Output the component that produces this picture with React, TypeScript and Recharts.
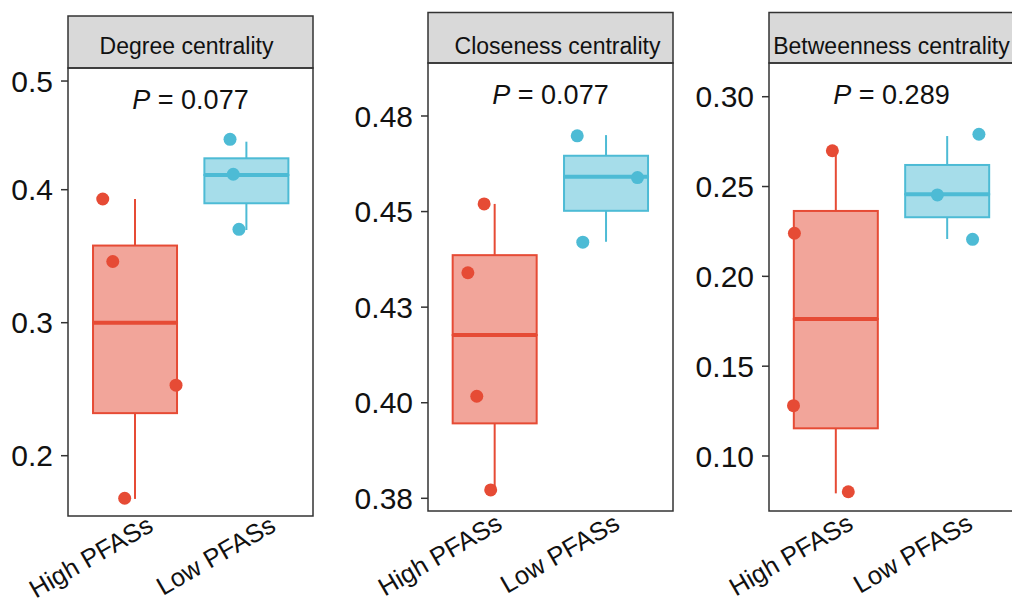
import React from 'react';
import { ComposedChart, Bar, Scatter, XAxis, YAxis } from 'recharts';

// ---------- data ----------
const GROUPS = ['High PFASs', 'Low PFASs'];
const GROUP_POS = [1, 2];
const PANEL_TITLES = ['Degree centrality', 'Closeness centrality', 'Betweenness centrality'];
const P_VALUES = ['0.077', '0.077', '0.289'];

// box statistics: [lower whisker, Q1, median, Q3, upper whisker]
const degreeBoxHigh = [0.1675, 0.232, 0.3, 0.358, 0.393];
const degreeBoxLow = [0.3697, 0.3898, 0.4111, 0.4236, 0.4361];
const closenessBoxHigh = [0.3772, 0.3946, 0.4177, 0.4386, 0.452];
const closenessBoxLow = [0.4421, 0.4502, 0.4591, 0.4646, 0.47];
const betweennessBoxHigh = [0.0792, 0.1154, 0.1763, 0.2364, 0.2699];
const betweennessBoxLow = [0.2208, 0.2329, 0.2457, 0.262, 0.2781];

// jittered sample points (x = group position + jitter, y = value)
const degreeHighX = [0.712, 0.802, 1.37, 0.909];
const degreeHighY = [0.393, 0.346, 0.253, 0.168];
const degreeLowX = [1.855, 1.884, 1.935];
const degreeLowY = [0.4379, 0.4116, 0.3702];
const closenessHighX = [0.904, 0.758, 0.838, 0.963];
const closenessHighY = [0.452, 0.434, 0.4017, 0.3772];
const closenessLowX = [1.74, 2.281, 1.79];
const closenessLowY = [0.4698, 0.4589, 0.442];
const betweennessHighX = [0.969, 0.628, 0.62, 1.112];
const betweennessHighY = [0.2699, 0.224, 0.128, 0.0801];
const betweennessLowX = [2.285, 1.912, 2.228];
const betweennessLowY = [0.2791, 0.2453, 0.2206];

// y axes
const degreeTicks = [0.2, 0.3, 0.4, 0.4817];
const degreeTickLabels = ['0.2', '0.3', '0.4', '0.5'];
const degreeDomain = [0.15466, 0.4915];
const closenessTicks = [0.375, 0.4, 0.425, 0.45, 0.475];
const closenessTickLabels = ['0.38', '0.40', '0.43', '0.45', '0.48'];
const closenessDomain = [0.37168, 0.48886];
const betweennessTicks = [0.1, 0.15, 0.2, 0.25, 0.3];
const betweennessTickLabels = ['0.10', '0.15', '0.20', '0.25', '0.30'];
const betweennessDomain = [0.06938, 0.31876];

// ---------- styles / layout ----------
const FONT = '"Liberation Sans", Arial, Helvetica, sans-serif';
const COLORS = ['#E64B35', '#4DBBD5'];
const FILLS = ['#F2A59A', '#A6DDEA'];
const PLOT_LEFT = [68, 428, 769];
const PLOT_TOP = [68, 63, 63];
const STRIP_TOP = [16, 12.5, 12.5];
const TITLE_DX = [-4, 7, 0];
const X_LABEL_DX = [
  [20, 31],
  [9, 15],
  [19, 27],
];
const X_LABEL_DY = [14, 17, 17];
const PLOT_W = 245;
const PLOT_H = 448;
const Y_AXIS_W = 90;
const X_AXIS_H = 110;
const TOP_PAD = 24;
const BOX_HALF = 42;

const zipPoints = (xs: number[], ys: number[]) => xs.map((x, i) => ({ x, y: ys[i] }));

const boxRows = (high: number[], low: number[]) =>
  [high, low].map((s, i) => ({
    x: GROUP_POS[i],
    base: s[0],
    whiskerLo: s[1] - s[0],
    boxLo: s[2] - s[1],
    boxHi: s[3] - s[2],
    whiskerHi: s[4] - s[3],
  }));

const PANELS = [
  {
    rows: boxRows(degreeBoxHigh, degreeBoxLow),
    high: zipPoints(degreeHighX, degreeHighY),
    low: zipPoints(degreeLowX, degreeLowY),
    ticks: degreeTicks,
    labels: degreeTickLabels,
    domain: degreeDomain,
  },
  {
    rows: boxRows(closenessBoxHigh, closenessBoxLow),
    high: zipPoints(closenessHighX, closenessHighY),
    low: zipPoints(closenessLowX, closenessLowY),
    ticks: closenessTicks,
    labels: closenessTickLabels,
    domain: closenessDomain,
  },
  {
    rows: boxRows(betweennessBoxHigh, betweennessBoxLow),
    high: zipPoints(betweennessHighX, betweennessHighY),
    low: zipPoints(betweennessLowX, betweennessLowY),
    ticks: betweennessTicks,
    labels: betweennessTickLabels,
    domain: betweennessDomain,
  },
];

const groupIndex = (p: any) => {
  if (p && p.payload && typeof p.payload.x === 'number') return GROUP_POS.indexOf(p.payload.x);
  return p.index ?? 0;
};

const EmptyShape = () => <g />;

const WhiskerShape = (p: any) => {
  const gi = groupIndex(p);
  const cx = p.x + p.width / 2;
  return <line x1={cx} x2={cx} y1={p.y} y2={p.y + p.height} stroke={COLORS[gi]} strokeWidth={2} />;
};

const BoxLowerShape = (p: any) => {
  const gi = groupIndex(p);
  const cx = p.x + p.width / 2;
  return (
    <rect
      x={cx - BOX_HALF}
      y={p.y}
      width={BOX_HALF * 2}
      height={p.height}
      fill={FILLS[gi]}
      stroke={COLORS[gi]}
      strokeWidth={2}
    />
  );
};

const BoxUpperShape = (p: any) => {
  const gi = groupIndex(p);
  const cx = p.x + p.width / 2;
  const yb = p.y + p.height;
  return (
    <g>
      <rect
        x={cx - BOX_HALF}
        y={p.y}
        width={BOX_HALF * 2}
        height={p.height}
        fill={FILLS[gi]}
        stroke={COLORS[gi]}
        strokeWidth={2}
      />
      <line x1={cx - BOX_HALF} x2={cx + BOX_HALF} y1={yb} y2={yb} stroke={COLORS[gi]} strokeWidth={4} />
    </g>
  );
};

const makeDot = (color: string) => (p: any) => <circle cx={p.cx} cy={p.cy} r={6.5} fill={color} />;

const makeXTick = (panelIdx: number) => (p: any) => {
  const { x, y, payload } = p;
  const gi = GROUP_POS.indexOf(payload.value);
  const tx = x + X_LABEL_DX[panelIdx][gi];
  const ty = y + X_LABEL_DY[panelIdx];
  return (
    <text
      x={tx}
      y={ty}
      transform={`rotate(-30, ${tx}, ${ty})`}
      textAnchor="end"
      fontSize={25.5}
      fontFamily={FONT}
      fill="#111"
    >
      {GROUPS[gi]}
    </text>
  );
};

const Panel = ({ idx }: { idx: number }) => {
  const pn = PANELS[idx];
  return (
    <div style={{ position: 'absolute', left: PLOT_LEFT[idx] - Y_AXIS_W, top: PLOT_TOP[idx] - TOP_PAD }}>
      <ComposedChart
        width={Y_AXIS_W + PLOT_W}
        height={TOP_PAD + PLOT_H + X_AXIS_H}
        data={pn.rows}
        margin={{ top: TOP_PAD, right: 0, bottom: 0, left: 0 }}
        barGap={0}
      >
        <XAxis
          dataKey="x"
          type="number"
          domain={[0.4, 2.6]}
          allowDataOverflow
          ticks={GROUP_POS}
          interval={0}
          tick={makeXTick(idx)}
          tickLine={false}
          axisLine={false}
          tickSize={0}
          tickMargin={0}
          height={X_AXIS_H}
        />
        <YAxis
          type="number"
          domain={pn.domain}
          allowDataOverflow
          ticks={pn.ticks}
          interval={0}
          tickFormatter={(v: number) => pn.labels[pn.ticks.indexOf(v)]}
          width={Y_AXIS_W}
          axisLine={false}
          tickLine={{ stroke: '#333', strokeWidth: 1.5 }}
          tickSize={7}
          tickMargin={8}
          tick={{ fontSize: 30, fill: '#111', fontFamily: FONT }}
        />
        <Bar dataKey="base" stackId="box" shape={EmptyShape} isAnimationActive={false} />
        <Bar dataKey="whiskerLo" stackId="box" shape={WhiskerShape} isAnimationActive={false} />
        <Bar dataKey="boxLo" stackId="box" shape={BoxLowerShape} isAnimationActive={false} />
        <Bar dataKey="boxHi" stackId="box" shape={BoxUpperShape} isAnimationActive={false} />
        <Bar dataKey="whiskerHi" stackId="box" shape={WhiskerShape} isAnimationActive={false} />
        <Scatter data={pn.high} dataKey="y" fill={COLORS[0]} shape={makeDot(COLORS[0])} isAnimationActive={false} />
        <Scatter data={pn.low} dataKey="y" fill={COLORS[1]} shape={makeDot(COLORS[1])} isAnimationActive={false} />
      </ComposedChart>
    </div>
  );
};

export default function App() {
  return (
    <div
      style={{
        position: 'absolute',
        left: 0,
        top: 0,
        width: 1012,
        height: 604,
        overflow: 'hidden',
        background: '#fff',
        fontFamily: FONT,
      }}
    >
      {[0, 1, 2].map((i) => (
        <Panel key={i} idx={i} />
      ))}
      <svg
        width={1012}
        height={604}
        style={{ position: 'absolute', left: 0, top: 0, pointerEvents: 'none' }}
      >
        {[0, 1, 2].map((i) => {
          const x0 = PLOT_LEFT[i];
          const y0 = PLOT_TOP[i];
          const cx = x0 + PLOT_W / 2;
          return (
            <g key={i}>
              <rect
                x={x0}
                y={STRIP_TOP[i]}
                width={PLOT_W}
                height={y0 - STRIP_TOP[i]}
                fill="#D9D9D9"
                stroke="#333"
                strokeWidth={1.5}
              />
              <text x={cx + TITLE_DX[i]} y={53.5} textAnchor="middle" fontSize={23} fontFamily={FONT} fill="#111">
                {PANEL_TITLES[i]}
              </text>
              <rect x={x0} y={y0} width={PLOT_W} height={PLOT_H} fill="none" stroke="#333" strokeWidth={1.5} />
              <text x={cx} y={y0 + 41} textAnchor="middle" fontSize={27} fontFamily={FONT} fill="#111">
                <tspan fontStyle="italic">P</tspan>
                <tspan>{' = ' + P_VALUES[i]}</tspan>
              </text>
            </g>
          );
        })}
      </svg>
    </div>
  );
}
